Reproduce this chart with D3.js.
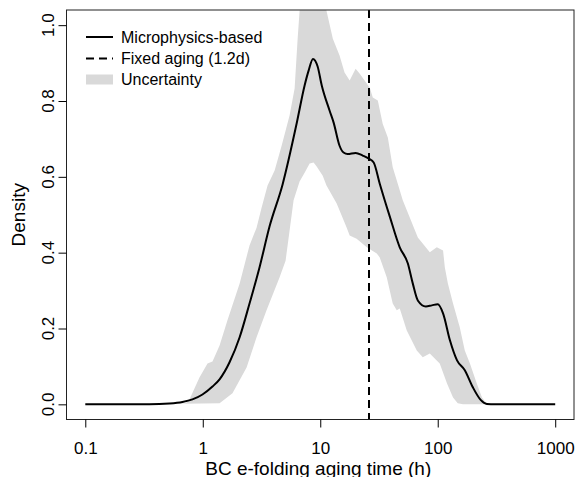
<!DOCTYPE html>
<html><head><meta charset="utf-8">
<script src="https://cdn.jsdelivr.net/npm/d3@7"></script>
<style>body{margin:0;background:#fff}text{font-family:"Liberation Sans",Arial,Helvetica,sans-serif}</style>
</head><body>
<svg id="chart" width="579" height="477"></svg>
<script>
// ---- data ----
const centerX = [0.1, 0.351, 0.52, 0.671, 0.817, 0.994, 1.21, 1.39, 1.69, 2.06, 2.50, 3.04, 3.70, 4.78, 6.29, 7.36, 7.96, 8.67, 9.50, 10.3, 12.0, 13.0, 14.6, 15.8, 17.1, 20.0, 23.0, 25.9, 28.5, 32.1, 39.1, 47.5, 55.6, 61.3, 67.7, 79.2, 89.1, 100, 111, 127, 146, 170, 199, 233, 262, 307, 1000];
const centerY = [0, 0, 0.002, 0.006, 0.013, 0.026, 0.047, 0.066, 0.111, 0.177, 0.266, 0.361, 0.469, 0.580, 0.740, 0.841, 0.880, 0.911, 0.891, 0.841, 0.775, 0.743, 0.682, 0.664, 0.660, 0.663, 0.656, 0.648, 0.638, 0.582, 0.495, 0.414, 0.372, 0.319, 0.274, 0.258, 0.261, 0.264, 0.240, 0.169, 0.116, 0.090, 0.045, 0.011, 0.001, 0, 0];

const upperX = [0.351, 0.712, 0.770, 0.937, 1.097, 1.21, 1.39, 1.62, 2.06, 2.50, 2.87, 3.17, 3.56, 4.09, 4.69, 5.48, 6.05, 6.42, 6.67, 7.36, 8.63, 9.88, 11.3, 12.8, 14.6, 16.1, 17.8, 20.0, 21.7, 26.4, 28.0, 30.9, 34.0, 37.6, 41.4, 45.7, 50.4, 57.8, 67.7, 85.6, 98.2, 111, 115, 122, 135, 154, 170, 188, 215, 238, 262, 278, 1000];
const upperY = [0, 0.003, 0.013, 0.071, 0.108, 0.113, 0.155, 0.221, 0.319, 0.419, 0.466, 0.519, 0.577, 0.617, 0.682, 0.762, 0.833, 0.964, 1.038, 1.10, 1.14, 1.12, 1.038, 0.964, 0.920, 0.875, 0.854, 0.885, 0.872, 0.835, 0.809, 0.801, 0.740, 0.704, 0.625, 0.582, 0.538, 0.493, 0.440, 0.401, 0.414, 0.406, 0.361, 0.319, 0.266, 0.203, 0.142, 0.108, 0.055, 0.018, 0.001, 0, 0];

const lowerX = [0.351, 1.39, 1.79, 2.36, 2.87, 3.49, 4.51, 5.07, 5.48, 5.93, 6.67, 7.36, 8.12, 8.78, 9.32, 10.5, 11.3, 13.8, 16.8, 17.8, 20.4, 24.9, 30.3, 32.1, 36.8, 41.4, 44.8, 47.5, 54.5, 66.3, 74.6, 85.6, 104, 120, 135, 148, 164, 1000];
const lowerY = [0, 0.003, 0.029, 0.097, 0.177, 0.248, 0.335, 0.379, 0.458, 0.538, 0.588, 0.611, 0.635, 0.638, 0.627, 0.603, 0.577, 0.530, 0.466, 0.445, 0.437, 0.414, 0.398, 0.387, 0.335, 0.266, 0.248, 0.253, 0.195, 0.142, 0.124, 0.134, 0.108, 0.055, 0.018, 0.003, 0, 0];

const fixedAgingHours = 26;
const xTicks = [0.1, 1, 10, 100, 1000];
const xTickLabels = ["0.1", "1", "10", "100", "1000"];
const yTicks = [0, 0.2, 0.4, 0.6, 0.8, 1.0];
const yTickLabels = ["0.0", "0.2", "0.4", "0.6", "0.8", "1.0"];
const legendLabels = ["Microphysics-based", "Fixed aging (1.2d)", "Uncertainty"];
const xTitle = "BC e-folding aging time (h)";
const yTitle = "Density";

// ---- layout ----
const L = 66.5, R = 574, T = 10, B = 419.5;
const svg = d3.select("#chart");

const lo = Math.log10(0.1), hi = Math.log10(1000), pad = 0.04 * (hi - lo);
const x = d3.scaleLog().domain([Math.pow(10, lo - pad), Math.pow(10, hi + pad)]).range([L, R]);
const y = d3.scaleLinear().domain([-0.04, 1.04]).range([B, T]);

svg.append("defs").append("clipPath").attr("id", "clip")
  .append("rect").attr("x", L).attr("y", T).attr("width", R - L).attr("height", B - T);

const plot = svg.append("g").attr("clip-path", "url(#clip)");

// uncertainty band
const bandPts = upperX.map((d, i) => [d, upperY[i]])
  .concat(lowerX.map((d, i) => [d, lowerY[i]]).reverse());
plot.append("path")
  .attr("d", d3.line().x(d => x(d[0])).y(d => y(d[1]))(bandPts) + "Z")
  .attr("fill", "#d9d9d9").attr("stroke", "none");

// central curve
plot.append("path")
  .attr("d", d3.line().x(d => x(d[0])).y(d => y(d[1])).curve(d3.curveMonotoneX)(centerX.map((d, i) => [d, centerY[i]])))
  .attr("fill", "none").attr("stroke", "#000").attr("stroke-width", 2);

// fixed aging line
plot.append("line")
  .attr("x1", x(fixedAgingHours)).attr("x2", x(fixedAgingHours))
  .attr("y1", T).attr("y2", B)
  .attr("stroke", "#000").attr("stroke-width", 2).attr("stroke-dasharray", "8,5");

// box
svg.append("rect").attr("x", L).attr("y", T).attr("width", R - L).attr("height", B - T)
  .attr("fill", "none").attr("stroke", "#222").attr("stroke-width", 1);

// x axis
const xAxis = svg.append("g").attr("transform", `translate(0,${B})`)
  .call(d3.axisBottom(x).tickValues(xTicks).tickFormat((d, i) => xTickLabels[i]).tickSize(8).tickPadding(14));
xAxis.select(".domain").remove();
xAxis.selectAll("text").attr("font-size", "17px").attr("font-family", null).attr("fill", "#000");
xAxis.selectAll("line").attr("stroke", "#000");

// y axis
const yAxis = svg.append("g").attr("transform", `translate(${L},0)`)
  .call(d3.axisLeft(y).tickValues(yTicks).tickFormat("").tickSize(8));
yAxis.select(".domain").remove();
yAxis.selectAll("line").attr("stroke", "#000");
svg.append("g").selectAll("text").data(yTicks).join("text")
  .attr("transform", d => `translate(53.5,${y(d)}) rotate(-90)`)
  .attr("text-anchor", "middle").attr("font-size", "17px").attr("fill", "#000")
  .text((d, i) => yTickLabels[i]);

// titles
svg.append("text").attr("x", (L + R) / 2 - 2).attr("y", 474.5).attr("text-anchor", "middle")
  .attr("font-size", "19px").attr("fill", "#000").text(xTitle);
svg.append("text").attr("transform", `translate(25,${(T + B) / 2}) rotate(-90)`)
  .attr("text-anchor", "middle").attr("font-size", "19px").attr("fill", "#000").text(yTitle);

// legend
const lg = svg.append("g");
const rows = [37, 58.5, 79.5];
lg.append("line").attr("x1", 86).attr("x2", 113).attr("y1", rows[0]).attr("y2", rows[0])
  .attr("stroke", "#000").attr("stroke-width", 2);
lg.append("line").attr("x1", 86).attr("x2", 113).attr("y1", rows[1]).attr("y2", rows[1])
  .attr("stroke", "#000").attr("stroke-width", 2).attr("stroke-dasharray", "8,5");
lg.append("rect").attr("x", 86).attr("y", rows[2] - 5).attr("width", 27).attr("height", 10).attr("fill", "#d9d9d9");
lg.selectAll("text").data(legendLabels).join("text")
  .attr("x", 121).attr("y", (d, i) => rows[i] + 5.6)
  .attr("font-size", "16px").attr("fill", "#000").text(d => d);
</script></body></html>
